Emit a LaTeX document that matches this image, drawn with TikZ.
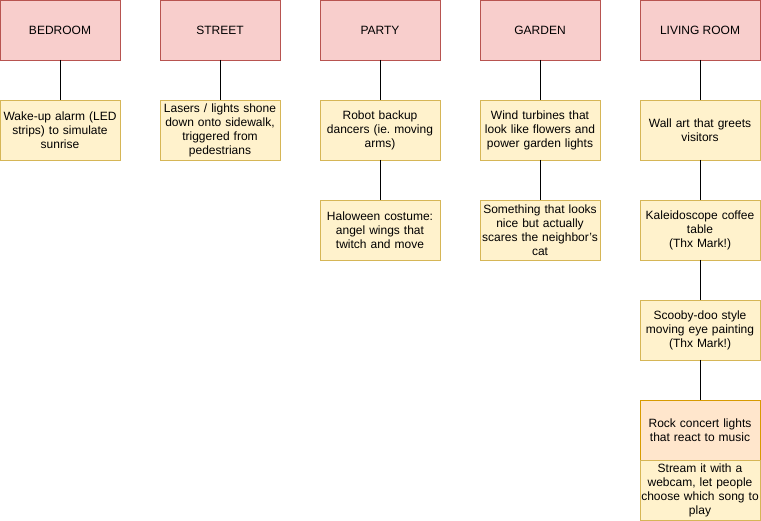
\documentclass[tikz,border=0pt]{standalone}
\usepackage{fontspec}
\setmainfont{Liberation Sans}
\usetikzlibrary{positioning}
\definecolor{roomfill}{HTML}{F8CECC}
\definecolor{roomline}{HTML}{B85450}
\definecolor{ideafill}{HTML}{FFF2CC}
\definecolor{idealine}{HTML}{D6B656}
\definecolor{hotfill}{HTML}{FFE6CC}
\definecolor{hotline}{HTML}{D79B00}
\frenchspacing

\begin{document}
\begin{tikzpicture}[x=1pt,y=-1pt,
    every node/.style={font=\fontsize{12}{14}\selectfont, align=center, inner sep=0pt, outer sep=0pt},
    room/.style={draw=roomline, fill=roomfill, line width=0.8pt, minimum width=120pt, minimum height=60pt},
    idea/.style={draw=idealine, fill=ideafill, line width=0.8pt, minimum width=120pt, minimum height=60pt, text width=118pt},
    hotidea/.style={idea, draw=hotline, fill=hotfill},
    link/.style={draw=black, line width=0.8pt}]
  \useasboundingbox (0,0) rectangle (761,521);

  % rooms
  \node[room] (bedroom) at (60,30) {BEDROOM};
  \node[room, right=40pt of bedroom] (street) {STREET};
  \node[room, right=40pt of street] (party) {PARTY};
  \node[room, right=40pt of party] (garden) {GARDEN};
  \node[room, right=40pt of garden] (living) {LIVING ROOM};

  % ideas
  \node[idea, below=40pt of bedroom] (alarm) {Wake-up alarm (LED\\strips) to simulate\\sunrise};
  \node[idea, below=40pt of street] (lasers) {Lasers / lights shone\\down onto sidewalk,\\triggered from\\pedestrians};
  \node[idea, below=40pt of party] (robot) {Robot backup\\dancers (ie. moving\\arms)};
  \node[idea, below=40pt of robot] (costume) {Haloween costume:\\angel wings that\\twitch and move};
  \node[idea, below=40pt of garden] (turbine) {Wind turbines that\\look like flowers and\\power garden lights};
  \node[idea, below=40pt of turbine] (scare) {Something that looks\\nice but actually\\scares the neighbor's\\cat};
  \node[idea, below=40pt of living] (wallart) {Wall art that greets\\visitors};
  \node[idea, below=40pt of wallart] (table) {Kaleidoscope coffee\\table\\(Thx Mark!)};
  \node[idea, below=40pt of table] (painting) {Scooby-doo style\\moving eye painting\\(Thx Mark!)};
  \node[hotidea, below=40pt of painting] (concert) {Rock concert lights\\that react to music};
  \node[idea, below=0pt of concert] (stream) {Stream it with a\\webcam, let people\\choose which song to\\play};

  % links
  \draw[link] (bedroom) -- (alarm);
  \draw[link] (street) -- (lasers);
  \draw[link] (party) -- (robot);
  \draw[link] (robot) -- (costume);
  \draw[link] (garden) -- (turbine);
  \draw[link] (turbine) -- (scare);
  \draw[link] (living) -- (wallart);
  \draw[link] (wallart) -- (table);
  \draw[link] (table) -- (painting);
  \draw[link] (painting) -- (concert);
\end{tikzpicture}
\end{document}
